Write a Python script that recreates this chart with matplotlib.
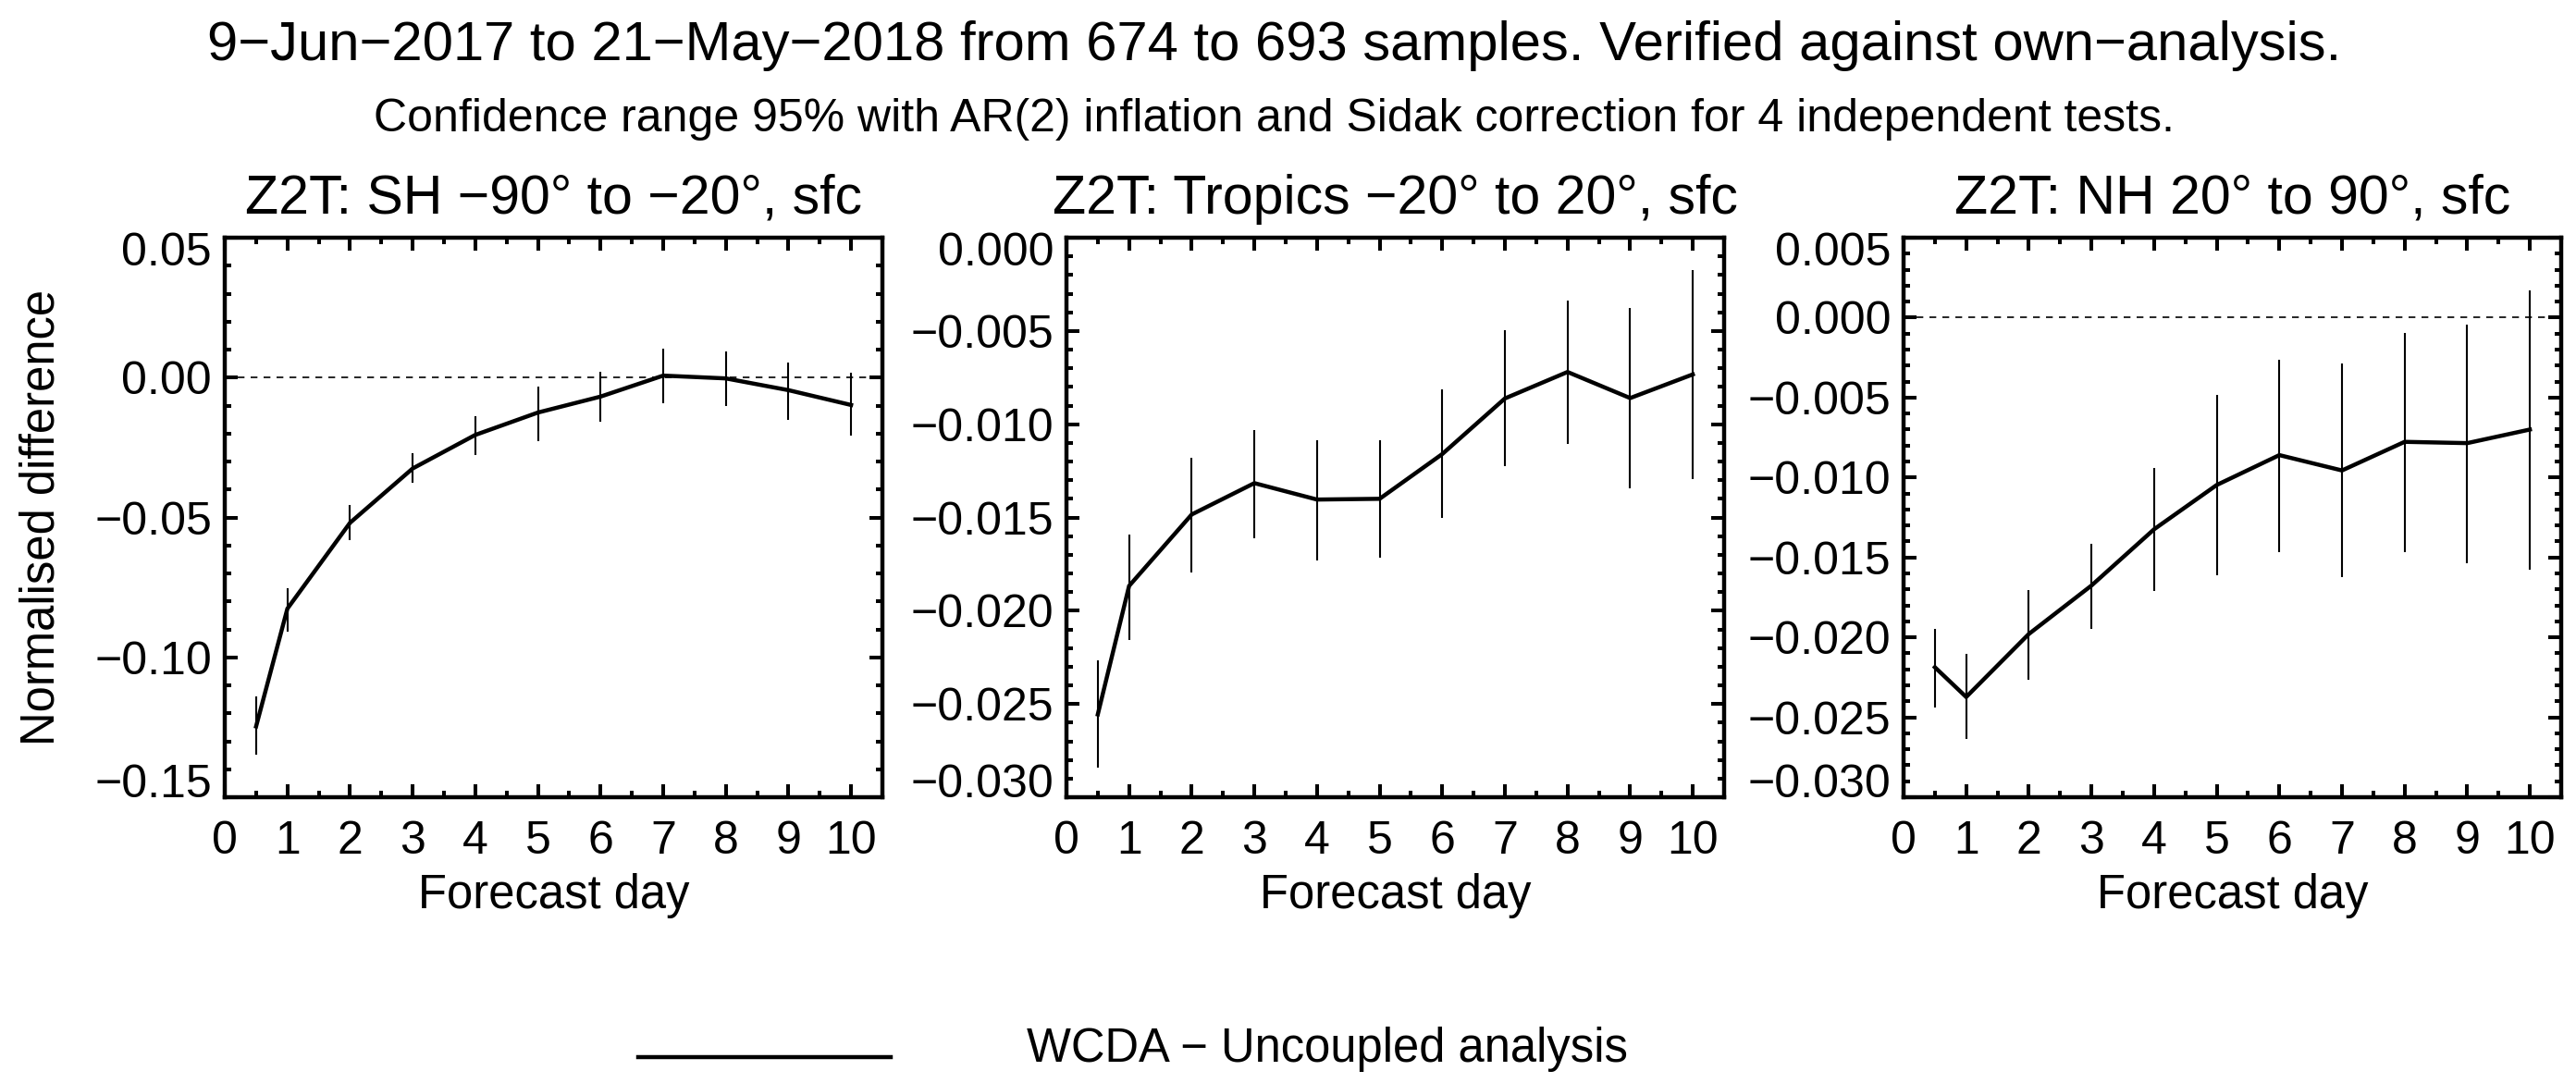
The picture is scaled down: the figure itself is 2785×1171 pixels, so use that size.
import numpy as np
import matplotlib
matplotlib.use("Agg")
import matplotlib.pyplot as plt
from matplotlib.lines import Line2D
from matplotlib.ticker import MultipleLocator, FuncFormatter
from matplotlib.transforms import ScaledTranslation

plt.rcParams['font.family'] = ['Liberation Sans', 'DejaVu Sans']

# forecast days
days = [0.5, 1, 2, 3, 4, 5, 6, 7, 8, 9, 10]

# SH -90 to -20
sh_mean = [-0.1247, -0.0826, -0.0519, -0.0325, -0.0205, -0.0125, -0.0068, 0.0007, -0.0003, -0.0045, -0.0098]
sh_lo = [-0.1348, -0.0908, -0.0582, -0.0377, -0.0278, -0.0226, -0.0159, -0.0092, -0.0103, -0.0150, -0.0208]
sh_hi = [-0.1140, -0.0753, -0.0456, -0.0270, -0.0137, -0.0031, 0.0021, 0.0103, 0.0092, 0.0053, 0.0016]

# Tropics -20 to 20
tr_mean = [-0.02556, -0.01867, -0.01484, -0.01316, -0.01404, -0.01400, -0.01160, -0.00862, -0.00720, -0.00860, -0.00733]
tr_lo = [-0.02840, -0.02156, -0.01796, -0.01613, -0.01729, -0.01716, -0.01500, -0.01227, -0.01107, -0.01344, -0.01293]
tr_hi = [-0.02267, -0.01593, -0.01178, -0.01031, -0.01084, -0.01084, -0.00813, -0.00496, -0.00336, -0.00376, -0.00173]

# NH 20 to 90
nh_mean = [-0.02187, -0.02373, -0.01979, -0.01676, -0.01324, -0.01047, -0.00860, -0.00956, -0.00777, -0.00785, -0.00700]
nh_lo = [-0.02438, -0.02635, -0.02264, -0.01946, -0.01712, -0.01611, -0.01466, -0.01624, -0.01466, -0.01539, -0.01578]
nh_hi = [-0.01948, -0.02104, -0.01707, -0.01412, -0.00943, -0.00484, -0.00262, -0.00288, -0.00093, -0.00041, 0.00171]

titles = ["Z2T: SH \u221290\u00b0 to \u221220\u00b0, sfc",
          "Z2T: Tropics \u221220\u00b0 to 20\u00b0, sfc",
          "Z2T: NH 20\u00b0 to 90\u00b0, sfc"]
ylims = [(-0.15, 0.05), (-0.030, 0.000), (-0.030, 0.005)]
ysteps = [0.05, 0.005, 0.005]
ydec = [2, 3, 3]

main_title = "9\u2212Jun\u22122017 to 21\u2212May\u22122018 from 674 to 693 samples. Verified against own\u2212analysis."
sub_title = "Confidence range 95% with AR(2) inflation and Sidak correction for 4 independent tests."
legend_label = "WCDA \u2212 Uncoupled analysis"


def fmt(nd):
    def f(v, pos):
        if abs(v) < 1e-12:
            v = 0.0
        return ("%.*f" % (nd, v)).replace("-", "\u2212")
    return FuncFormatter(f)


W, H = 2785, 1171
fig = plt.figure(figsize=(W / 100, H / 100), dpi=100)
lefts = [243 / W, 1153 / W, 2058 / W]
bottom = 1 - 862 / H
height = 605 / H
width = 711 / W

series = [(sh_mean, sh_lo, sh_hi), (tr_mean, tr_lo, tr_hi), (nh_mean, nh_lo, nh_hi)]
for i in range(3):
    ax = fig.add_axes([lefts[i], bottom, width, height])
    m, lo, hi = series[i]
    ax.vlines(days, lo, hi, color='k', lw=1.5)
    ax.plot(days, m, color='k', lw=3.2, solid_joinstyle='miter')
    if ylims[i][1] > 0:
        ax.axhline(0, color='k', lw=1.2, dashes=(4.4, 4.0))
    ax.set_xlim(0, 10.5)
    ax.set_ylim(*ylims[i])
    ax.xaxis.set_major_locator(MultipleLocator(1))
    ax.xaxis.set_minor_locator(MultipleLocator(0.5))
    ax.set_yticks(np.arange(ylims[i][0], ylims[i][1] + ysteps[i] / 2, ysteps[i]))
    ax.yaxis.set_minor_locator(MultipleLocator(ysteps[i] / 5))
    ax.yaxis.set_major_formatter(fmt(ydec[i]))
    ax.tick_params(which='both', direction='in', top=True, right=True, width=2.9)
    ax.tick_params(which='major', length=10, labelsize=36)
    ax.tick_params(which='minor', length=5)
    ax.tick_params(axis='x', pad=18)
    ax.tick_params(axis='y', pad=10)
    for s in ax.spines.values():
        s.set_linewidth(3.2)
    ax.set_title(titles[i], fontsize=42.5, pad=19)
    ax.set_xlabel("Forecast day", fontsize=36.5)
    ax.xaxis.set_label_coords(0.5, -0.135)
    if i == 0:
        ax.set_ylabel("Normalised difference", fontsize=36.5)
        ax.yaxis.set_label_coords(-0.244, 0.5)
    # end labels sit inside the axis range, like the original
    yt = ax.yaxis.get_major_ticks()
    yt[0].label1.set_transform(yt[0].label1.get_transform() +
                               ScaledTranslation(0, 18 / 100, fig.dpi_scale_trans))
    yt[-1].label1.set_transform(yt[-1].label1.get_transform() +
                                ScaledTranslation(0, -12 / 100, fig.dpi_scale_trans))

fig.text(0.4945, 1 - 65 / H, main_title, fontsize=43, ha='center', va='baseline')
fig.text(0.4945, 1 - 142 / H, sub_title, fontsize=36, ha='center', va='baseline')

# legend entry below the panels
fig.add_artist(Line2D([690 / W, 963 / W], [1 - 1143 / H, 1 - 1143 / H],
                      transform=fig.transFigure, color='k', lw=3.2))
fig.text(1110 / W, 1 - 1148 / H, legend_label, fontsize=36.5, ha='left', va='baseline')

fig.savefig("out.png", dpi=100)
